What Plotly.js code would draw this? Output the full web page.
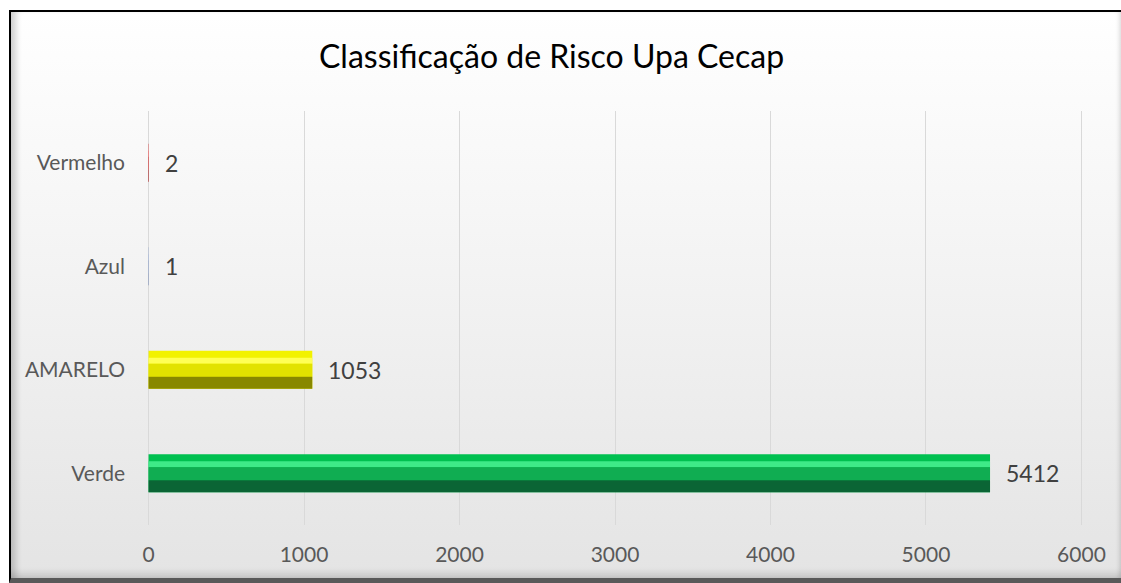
<!DOCTYPE html>
<html>
<head>
<meta charset="utf-8">
<script src="https://cdn.plot.ly/plotly-3.0.1.min.js"></script>
<style>
  html, body { margin: 0; padding: 0; width: 1121px; height: 583px; overflow: hidden; background: #ffffff; }
  #frame {
    position: absolute; left: 9px; top: 10px; width: 1112px; height: 573px;
    box-sizing: border-box;
    border-top: 2px solid #000; border-left: 2px solid #000; border-bottom: 5px solid #595959;
    background: linear-gradient(to bottom, #ffffff 0%, #f6f6f6 35%, #e4e4e4 100%);
    box-shadow: inset 9px 0 6px -4px rgba(0,0,0,0.18), inset 0 -9px 6px -4px rgba(0,0,0,0.12), inset -4px 0 4px -2px rgba(0,0,0,0.12);
  }
  #chart { position: absolute; left: 0; top: 0; width: 1121px; height: 583px; }
</style>
</head>
<body>
<div id="frame"></div>
<div id="chart"></div>
<script>
// ---- data ----
const categories = ["Verde", "AMARELO", "Azul", "Vermelho"];
const values = [5412, 1053, 1, 2];
const xTicks = [0, 1000, 2000, 3000, 4000, 5000, 6000];
const chartTitle = "Classificação de Risco Upa Cecap";

// ---- styles (bevel layers per category) ----
const topColors    = ["#00c050", "#f2f200", "#4472c4", "#e02020"];
const shineColors  = ["#3eea88", "#ffff55", "#7fa4e6", "#ff6060"];
const midColors    = ["#10ad52", "#e2e200", "#3a62b0", "#c81818"];
const bottomColors = ["#0b6535", "#888800", "#22407a", "#801010"];

const px = 1 / 103.5; // approx one pixel in category units
const half = 19 * px;
const layers = [
  { colors: topColors,    offset: -half,    width: 2 * half },
  { colors: shineColors,  offset: half - 13 * px, width: 6 * px },
  { colors: midColors,    offset: -7 * px,  width: 13 * px },
  { colors: bottomColors, offset: -half,    width: half - 7 * px }
];

const traces = layers.map(l => ({
  type: "bar",
  orientation: "h",
  y: categories,
  x: values,
  base: 0,
  offset: l.offset,
  width: l.width,
  marker: { color: l.colors, line: { width: 0 } },
  hoverinfo: "x+y",
  showlegend: false
}));

const font = "Lato, 'Open Sans', sans-serif";

const annotations = categories.map((c, i) => ({
  x: values[i], y: c, xref: "x", yref: "y",
  text: String(values[i]),
  showarrow: false, xanchor: "left", yanchor: "middle",
  xshift: 14,
  font: { family: font, size: 23, color: "#404040" }
}));

const layout = {
  width: 1121, height: 583,
  paper_bgcolor: "rgba(0,0,0,0)",
  plot_bgcolor: "rgba(0,0,0,0)",
  margin: { l: 147, r: 38, t: 111, b: 58 },
  barmode: "overlay",
  title: {
    text: chartTitle,
    x: 0.492, xref: "container", xanchor: "center",
    y: 1 - 57 / 583, yref: "container", yanchor: "middle",
    font: { family: font, size: 32, color: "#000000" }
  },
  xaxis: {
    range: [-10, 6010],
    tickvals: xTicks,
    ticktext: xTicks.map(String),
    showgrid: true, gridcolor: "#d9d9d9", gridwidth: 1,
    zeroline: false, showline: false, ticks: "",
    ticklabelstandoff: 15,
    tickfont: { family: font, size: 21, color: "#595959" },
    fixedrange: true
  },
  yaxis: {
    type: "category",
    categoryorder: "array", categoryarray: categories,
    range: [-0.5, 3.5],
    showgrid: false, zeroline: false, showline: false, ticks: "",
    ticklabelstandoff: 21,
    tickfont: { family: font, size: 21, color: "#595959" },
    fixedrange: true
  },
  annotations: annotations
};

Plotly.newPlot("chart", traces, layout, { displayModeBar: false, staticPlot: true });
</script>
</body>
</html>
